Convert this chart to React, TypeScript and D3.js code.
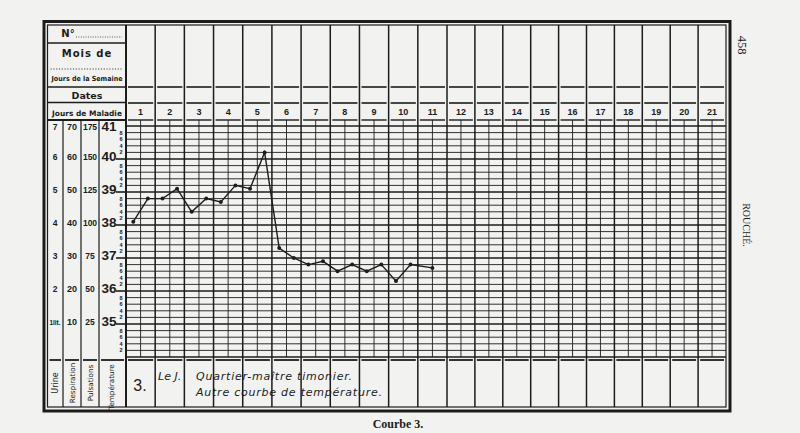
import React from "react";
import * as d3 from "d3";

// ---- data ----
const dayLabels = d3.range(1, 22).map(String);
const degreeTicks = [35, 36, 37, 38, 39, 40, 41];
const urineTicks = ["1lit.", "2", "3", "4", "5", "6", "7"];
const respTicks = ["10", "20", "30", "40", "50", "60", "70"];
const pulseTicks = ["25", "50", "75", "100", "125", "150", "175"];
const minorTickLabels = ["8", "6", "4", "2"];
// reading position: day number + fraction within the day (morning .25, evening .75)
const readingPos = [1.25, 1.75, 2.25, 2.75, 3.25, 3.75, 4.25, 4.75, 5.25, 5.75, 6.25, 6.75, 7.25, 7.75, 8.25, 8.75, 9.25, 9.75, 10.25, 10.75, 11.5];
const temps = [38.1, 38.8, 38.8, 39.1, 38.4, 38.8, 38.7, 39.2, 39.1, 40.2, 37.3, 37.0, 36.8, 36.9, 36.6, 36.8, 36.6, 36.8, 36.3, 36.8, 36.7];
const footerNote = ["Quartier-maître timonier.", "Autre courbe de température."];

const ink = "#1c1c1c";
const paper = "#f2f2f0";

export default function App() {
  const W = 800, H = 433;
  const x = d3.scaleLinear().domain([0, 11, 21]).range([126, 447, 726]);
  const y = d3.scaleLinear().domain([34, 41]).range([357, 126]);
  const frameL = 47.5, frameR = 726, frameT = 25, frameB = 407;
  const leftCols = [47.5, 63, 81, 99, 126];
  const gridTop = y(41), gridBot = y(34);

  const minor = d3.range(34, 41.0001, 0.2).map((v) => +v.toFixed(1));
  const line = d3.line<number>().x((_, i) => x(readingPos[i] - 1)).y((d) => y(d));

  const segs = (yy: number, w = 1.6) => {
    const out: JSX.Element[] = [];
    const bounds = [...leftCols.slice(0, -1), ...d3.range(0, 22).map((d) => x(d))];
    for (let i = 0; i < bounds.length - 1; i++) {
      const a = bounds[i], b = bounds[i + 1];
      if (a >= 126 || yy > 300)
        out.push(<line key={"s" + yy + "_" + i} x1={a + 2} x2={b - 2} y1={yy} y2={yy} stroke={ink} strokeWidth={w} />);
    }
    return out;
  };

  const sans = "'Liberation Sans', Arial, sans-serif";
  const dj = "'DejaVu Sans', sans-serif";
  const serif = "'Liberation Serif', 'DejaVu Serif', serif";

  return (
    <svg width={W} height={H} style={{ position: "absolute", left: 0, top: 0 }} xmlns="http://www.w3.org/2000/svg">
      <rect x={0} y={0} width={W} height={H} fill={paper} />
      {/* outer frames */}
      <rect x={44} y={21.5} width={686} height={389.5} fill="none" stroke={ink} strokeWidth={3} />
      <rect x={frameL} y={frameT} width={frameR - frameL} height={frameB - frameT} fill="none" stroke={ink} strokeWidth={1.2} />

      {/* left panel header lines */}
      <line x1={frameL} x2={126} y1={43} y2={43} stroke={ink} strokeWidth={1.6} />
      <line x1={frameL + 3} x2={123} y1={69} y2={69} stroke={ink} strokeWidth={0.8} strokeDasharray="1.2 1.6" />
      <line x1={frameL} x2={126} y1={87} y2={87} stroke={ink} strokeWidth={1.6} />
      <line x1={frameL} x2={126} y1={102.5} y2={102.5} stroke={ink} strokeWidth={1.6} />
      <line x1={frameL} x2={126} y1={120} y2={120} stroke={ink} strokeWidth={1.8} />
      {/* day column header segments */}
      {segs(87)}
      {segs(103)}
      {segs(120, 1.4)}
      {segs(360, 1.8)}

      {/* header texts */}
      <text x={68} y={37} fontFamily={dj} fontWeight="bold" fontSize={10} fill={ink} textAnchor="middle">N°</text>
      <line x1={76} x2={122} y1={37} y2={37} stroke={ink} strokeWidth={0.7} strokeDasharray="1 1.4" />
      <text x={87} y={57} fontFamily={dj} fontWeight="bold" fontSize={10} fill={ink} textAnchor="middle" letterSpacing={1}>Mois de</text>
      <text x={87} y={81} fontFamily={dj} fontWeight="bold" fontSize={7} fill={ink} textAnchor="middle" textLength={71} lengthAdjust="spacingAndGlyphs">Jours de la Semaine</text>
      <text x={87} y={98.5} fontFamily={dj} fontWeight="bold" fontSize={9.5} fill={ink} textAnchor="middle">Dates</text>
      <text x={87} y={116} fontFamily={dj} fontWeight="bold" fontSize={7.5} fill={ink} textAnchor="middle" textLength={70} lengthAdjust="spacingAndGlyphs">Jours de Maladie</text>
      {dayLabels.map((d, i) => (
        <text key={"d" + d} x={x(i + 0.5)} y={115} fontFamily={sans} fontWeight="bold" fontSize={9} fill={ink} textAnchor="middle">{d}</text>
      ))}

      {/* grid horizontal lines */}
      {minor.map((v) => {
        const major = Math.abs(v - Math.round(v)) < 1e-6;
        return (
          <line key={"h" + v} x1={126} x2={frameR} y1={y(v)} y2={y(v)} stroke={ink} strokeWidth={major ? 1.7 : 0.9} />
        );
      })}
      {/* half-day lines */}
      {d3.range(0, 21).map((d) => (
        <line key={"hv" + d} x1={x(d + 0.5)} x2={x(d + 0.5)} y1={120} y2={gridBot} stroke={ink} strokeWidth={0.9} />
      ))}
      {/* day lines */}
      {d3.range(1, 21).map((d) => (
        <line key={"dv" + d} x1={x(d)} x2={x(d)} y1={frameT} y2={frameB} stroke={ink} strokeWidth={1.5} />
      ))}
      {/* left panel verticals */}
      {leftCols.slice(1, 4).map((c) => (
        <line key={"lc" + c} x1={c} x2={c} y1={120} y2={frameB} stroke={ink} strokeWidth={1.2} />
      ))}
      <line x1={126} x2={126} y1={frameT} y2={frameB} stroke={ink} strokeWidth={2} />

      {/* y axis labels */}
      {degreeTicks.map((t, i) => {
        const yy = y(t);
        const base = Math.max(yy + 1.5, 131);
        return (
          <g key={"yt" + t}>
            <text x={55} y={base - 1} fontFamily={sans} fontWeight="bold" fontSize={i === 0 ? 6.5 : 8.5} fill={ink} textAnchor="middle">{urineTicks[i]}</text>
            <text x={72} y={base - 1} fontFamily={sans} fontWeight="bold" fontSize={9} fill={ink} textAnchor="middle">{respTicks[i]}</text>
            <text x={90} y={base - 1} fontFamily={sans} fontWeight="bold" fontSize={8.5} fill={ink} textAnchor="middle">{pulseTicks[i]}</text>
            <text x={109} y={base} fontFamily={sans} fontWeight="bold" fontSize={13.5} fill={ink} textAnchor="middle">{t}</text>
            {t < 41 && <line x1={116} x2={126} y1={yy} y2={yy} stroke={ink} strokeWidth={1.6} />}
          </g>
        );
      })}
      {d3.range(34, 41).map((deg) =>
        minorTickLabels.map((m, j) => (
          <text key={"m" + deg + m} x={121} y={y(deg + 1 - 0.2 * (j + 1)) + 2} fontFamily={sans} fontWeight="bold" fontSize={5.5} fill={ink} textAnchor="middle">{m}</text>
        ))
      )}

      {/* temperature curve */}
      <path d={line(temps) || ""} fill="none" stroke={ink} strokeWidth={1.4} />
      {temps.map((t, i) => (
        <circle key={"p" + i} cx={x(readingPos[i] - 1)} cy={y(t)} r={2} fill={ink} />
      ))}

      {/* footer */}
      {[["Urine", 55.5, 8], ["Respiration", 72.5, 7.2], ["Pulsations", 90.5, 7.2], ["Température", 111, 7.2]].map(([s, cx, fs]) => (
        <text key={"f" + s} transform={`translate(${cx},${s === "Température" ? 387 : 383}) rotate(-90)`} fontFamily={dj} fontSize={fs as number} fill={ink} textAnchor="middle" dominantBaseline="central">{s}</text>
      ))}
      <text x={140} y={391} fontFamily={sans} fontSize={16} fill={ink} textAnchor="middle">3.</text>
      <text x={158} y={380} fontFamily={dj} fontStyle="italic" fontSize={11} fill={ink}>Le J.</text>
      <text x={196} y={380} fontFamily={dj} fontStyle="italic" fontSize={11} fill={ink} textLength={156} lengthAdjust="spacing">{footerNote[0]}</text>
      <text x={196} y={396} fontFamily={dj} fontStyle="italic" fontSize={11} fill={ink} textLength={186} lengthAdjust="spacing">{footerNote[1]}</text>

      {/* margin texts */}
      <text transform="translate(738,45) rotate(90)" fontFamily={serif} fontSize={12.5} fill={ink} textAnchor="middle">458</text>
      <text transform="translate(743,225) rotate(90)" fontFamily={serif} fontSize={10} fill={ink} textAnchor="middle">ROUCHÉ.</text>
      <text x={398} y={428} fontFamily={serif} fontWeight="bold" fontSize={12} fill={ink} textAnchor="middle">Courbe 3.</text>
    </svg>
  );
}
